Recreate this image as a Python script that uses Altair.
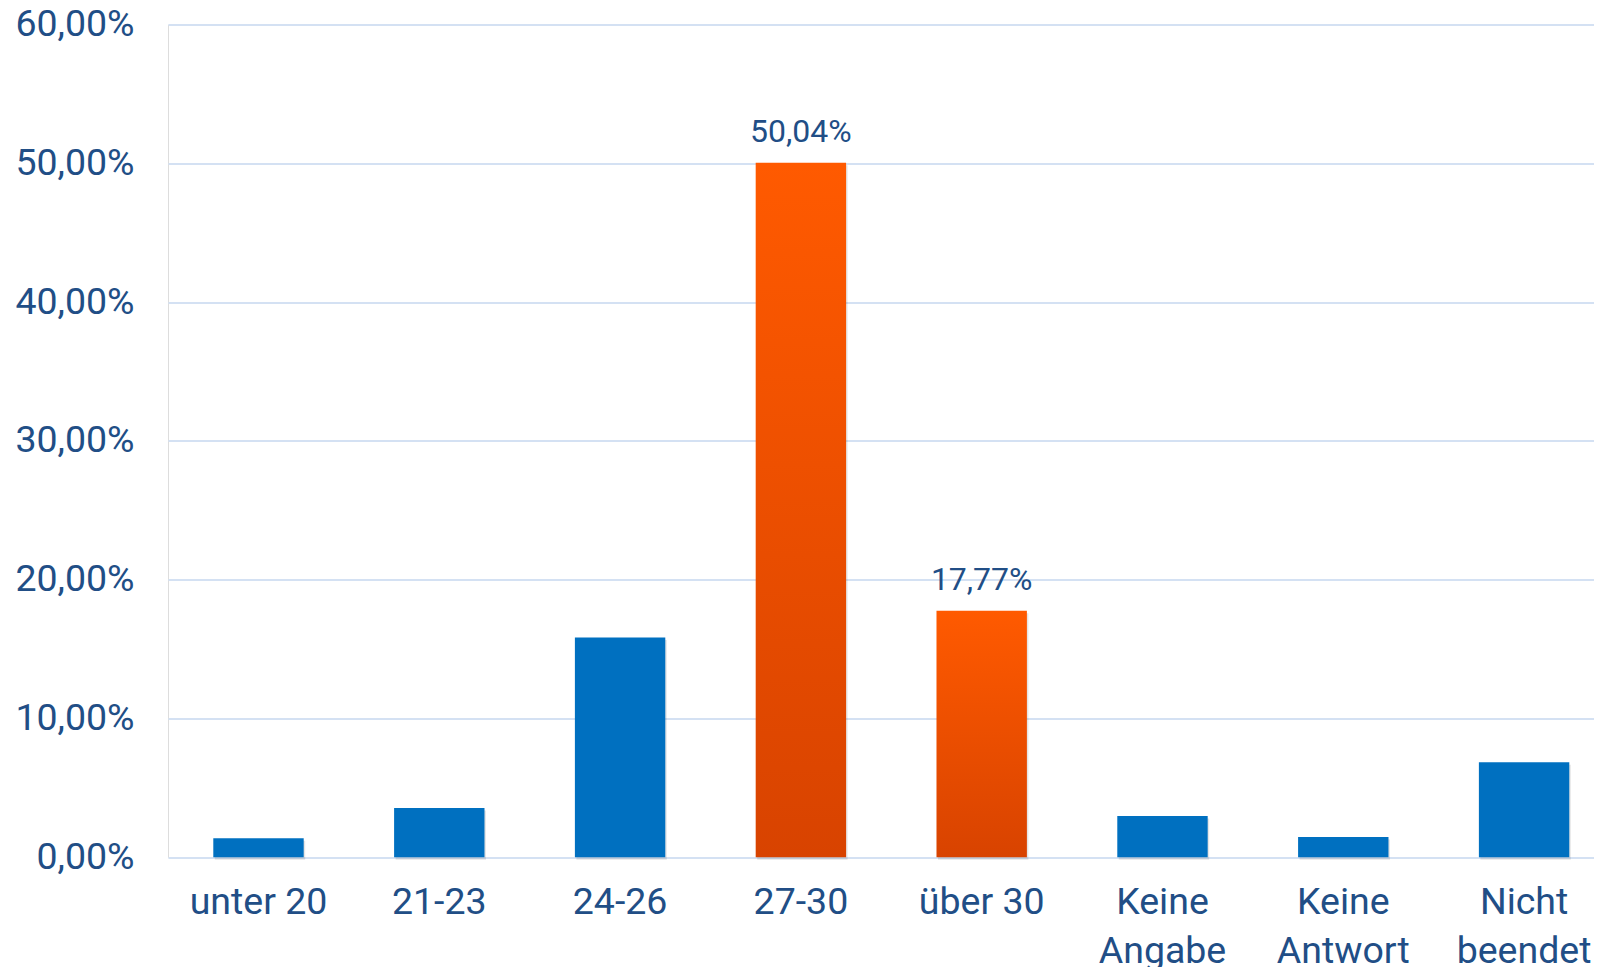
import altair as alt
import pandas as pd

categories = ["unter 20", "21-23", "24-26", "27-30", "über 30",
              "Keine Angabe", "Keine Antwort", "Nicht beendet"]
values_pct = [1.37, 3.56, 15.84, 50.04, 17.77, 2.98, 1.46, 6.85]
highlight = [False, False, False, True, True, False, False, False]
y_ticks = [0.0, 0.1, 0.2, 0.3, 0.4, 0.5, 0.6]

df = pd.DataFrame({
    "cat": categories,
    "value": [v / 100 for v in values_pct],
    "hl": highlight,
})

TEXT = "#214E86"
BLUE = "#0070C0"
GRID = "#D4E1F3"

x_enc = alt.X(
    "cat:N", sort=categories, title=None,
    scale=alt.Scale(paddingInner=0.5, paddingOuter=0.1936, align=0.647),
    axis=alt.Axis(
        domain=False, ticks=False, labelAngle=0, labelFontSize=37.5,
        labelColor=TEXT, labelFont="Roboto", labelPadding=26,
        labelLineHeight=49, labelOverlap=False, labelLimit=0,
        labelExpr="indexof(['Keine Angabe','Keine Antwort','Nicht beendet'], datum.value) >= 0 ? split(datum.value, ' ') : datum.value",
    ),
)
y_enc = alt.Y(
    "value:Q", title=None,
    scale=alt.Scale(domain=[0, 0.6], nice=False),
    axis=alt.Axis(
        values=y_ticks, domain=False, ticks=False, labelFontSize=37.5,
        labelColor=TEXT, labelFont="Roboto", labelPadding=34,
        gridColor=GRID, gridWidth=2,
        labelExpr="replace(format(datum.value, '.2%'), '.', ',')",
    ),
)

base = alt.Chart(df)

shadow = base.mark_bar(color="#000000", opacity=0.10, xOffset=1.5, yOffset=2.5).encode(
    x=x_enc, y=y_enc
)

blue_bars = base.transform_filter("!datum.hl").mark_bar(color=BLUE).encode(
    x=x_enc, y=y_enc
)

orange_grad = alt.LinearGradient(
    gradient="linear",
    stops=[alt.GradientStop(color="#FF5A00", offset=0),
           alt.GradientStop(color="#D84300", offset=1)],
    x1=0, x2=0, y1=0, y2=1,
)
orange_bars = base.transform_filter("datum.hl").mark_bar(color=orange_grad).encode(
    x=x_enc, y=y_enc
)

labels = base.transform_filter("datum.hl").transform_calculate(
    lbl="replace(format(datum.value, '.2%'), '.', ',')"
).mark_text(
    baseline="alphabetic", dy=-21, fontSize=32, color=TEXT, font="Roboto"
).encode(x=x_enc, y=y_enc, text="lbl:N")

chart = alt.layer(shadow, blue_bars, orange_bars, labels).properties(
    width=1426,
    height=832.8,
    autosize=alt.AutoSizeParams(type="none"),
    padding={"left": 160, "top": 16.5, "right": 0, "bottom": 110},
).configure_view(stroke=None).configure(background="white")

chart.save("out.html", embed_options={"renderer": "svg", "actions": False})
